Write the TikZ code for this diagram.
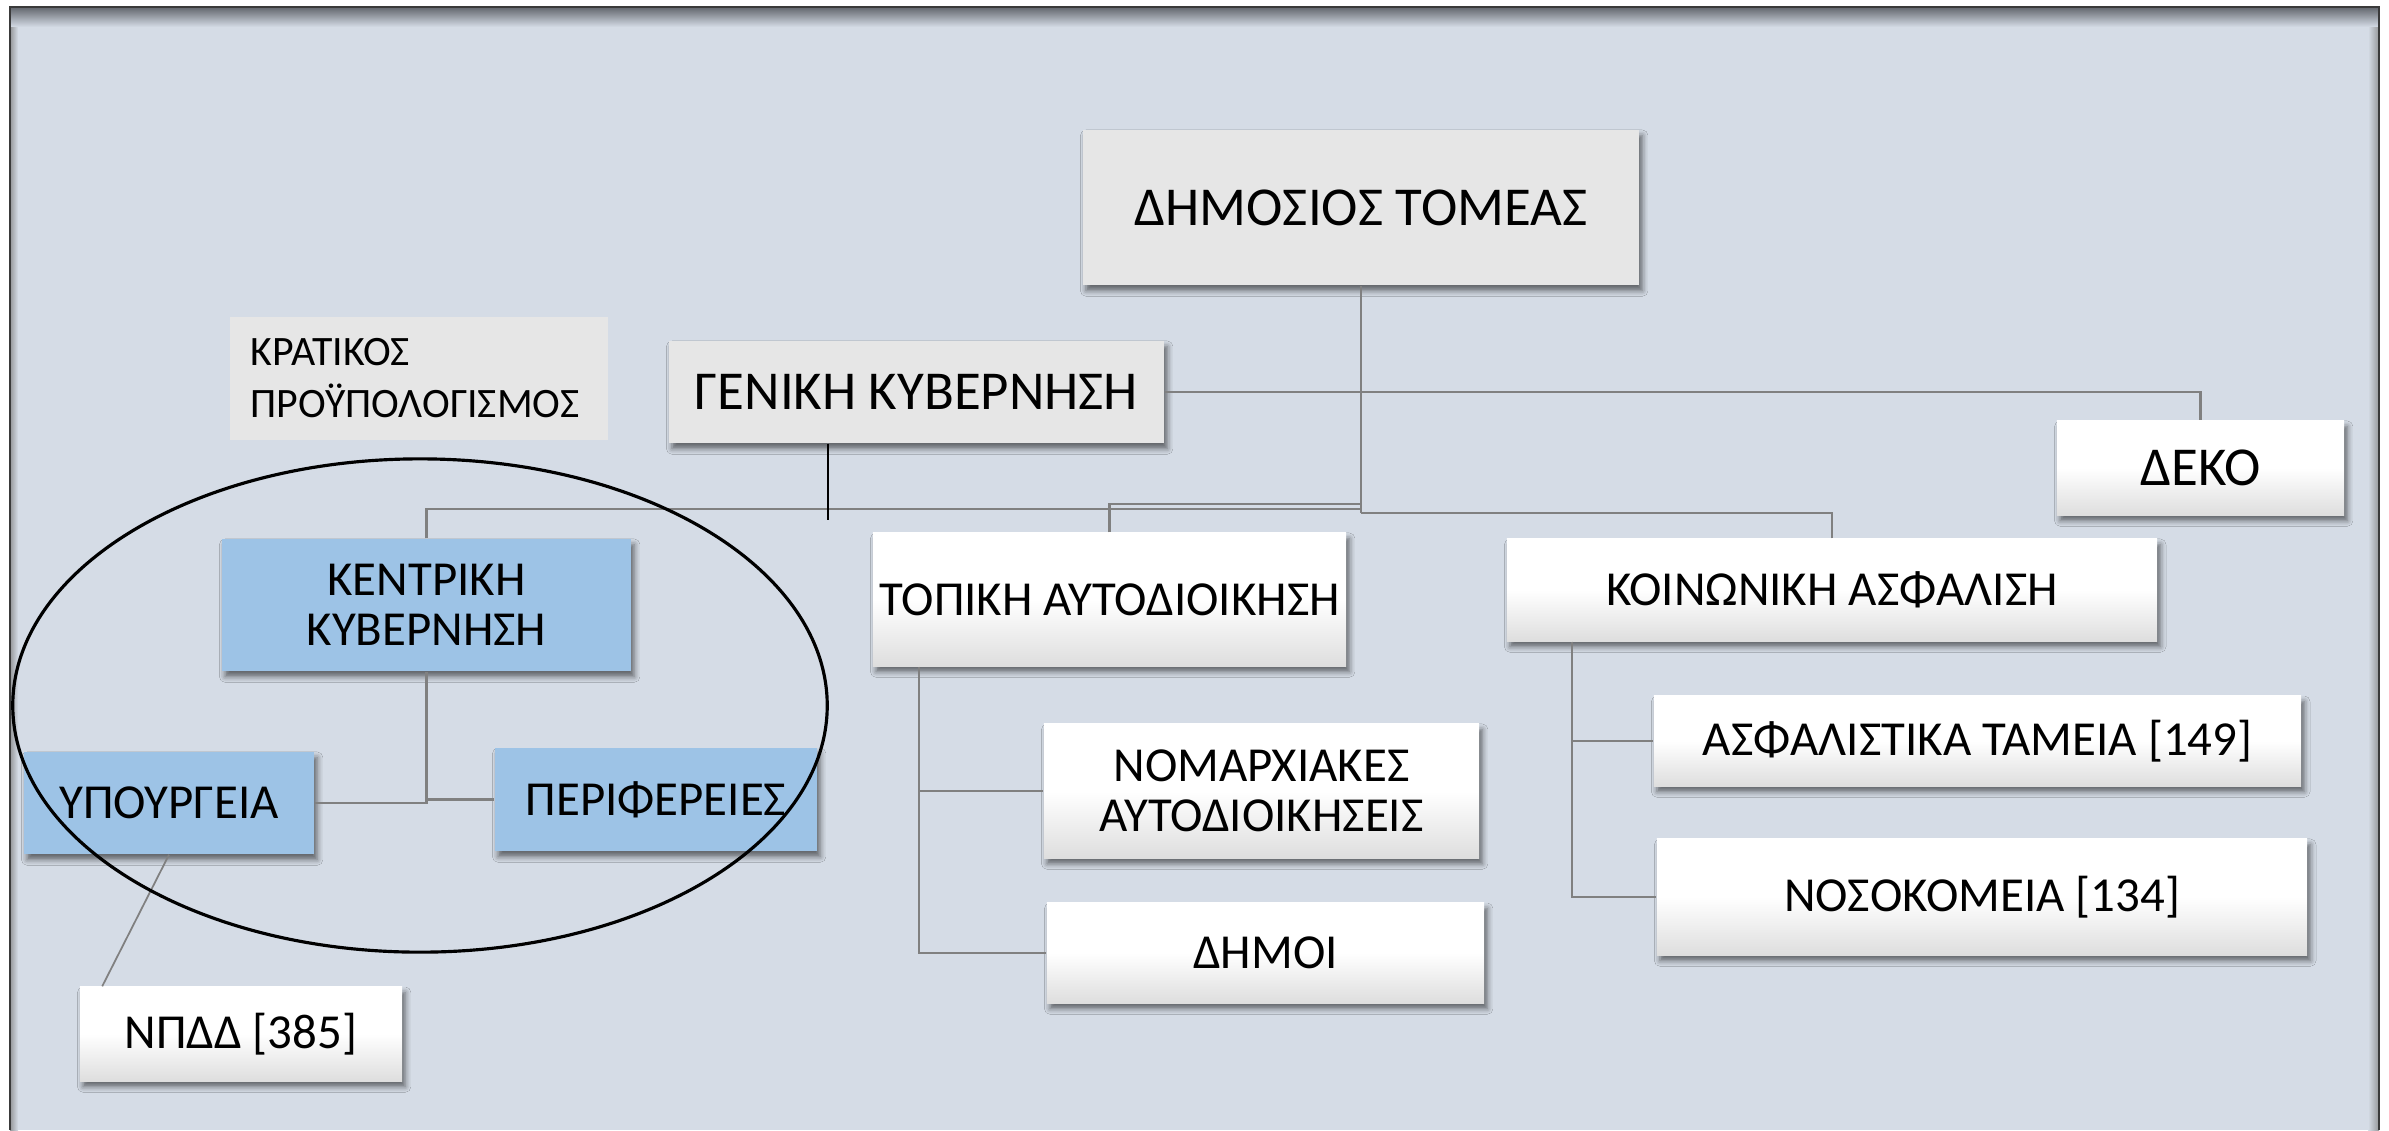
\documentclass[tikz,border=0pt]{standalone}
\usepackage{fontspec}
\setmainfont{Carlito}
\usetikzlibrary{shadows.blur,calc}
\definecolor{bg}{HTML}{D5DCE6}
\definecolor{greybox}{HTML}{E6E6E6}
\definecolor{bluebox}{HTML}{9DC3E6}
\definecolor{connc}{HTML}{808080}
\definecolor{framedark}{HTML}{3A3A3A}
\definecolor{framegrad}{HTML}{62666D}
\begin{document}
\begin{tikzpicture}[x=0.01cm,y=-0.01cm,
  base/.style={draw=none, inner sep=0pt, align=center, text=black,
    blur shadow={shadow xshift=0.9pt, shadow yshift=-1.6pt, shadow blur radius=1.6pt, shadow opacity=55}},
  greyb/.style={base, fill=greybox},
  blueb/.style={base, fill=bluebox},
  whiteb/.style={base, top color=white, bottom color=white!87!black, middle color=white},
  big/.style={font=\fontsize{15.6}{18}\selectfont},
  med/.style={font=\fontsize{13.9}{14.2}\selectfont},
  link/.style={draw=connc, line width=0.7pt},
]
\useasboundingbox (0,0) rectangle (2389,1130);
% frame and background
\fill[white] (0,0) rectangle (2389,1130);
\fill[bg] (10,7) rectangle (2379,1130);
\shade[top color=framegrad, bottom color=bg] (10,7) rectangle (2379,27);
\shade[left color=gray!75!bg, right color=bg] (10,27) rectangle (18,1130);
\shade[left color=bg, right color=gray!75!bg] (2368,27) rectangle (2379,1130);
\draw[framedark, line width=0.8pt] (10,1130) -- (10,7) -- (2379,7) -- (2379,1130);

\coordinate (jl) at (1361,509);
\coordinate (jt) at (1361,504);
\coordinate (jk) at (1361,513);
\coordinate (gkend) at (828,520);

% nodes
\node[greyb, big, minimum width=5.56cm, minimum height=1.55cm] (ds) at (1361,207.5) {ΔΗΜΟΣΙΟΣ ΤΟΜΕΑΣ};
\node[greyb, big, minimum width=4.95cm, minimum height=1.02cm] (gk) at (916.5,392) {ΓΕΝΙΚΗ ΚΥΒΕΡΝΗΣΗ};
\node[whiteb, big, minimum width=2.87cm, minimum height=0.94cm] (deko) at (2200.5,468) {ΔΕΚΟ};
\node[draw=none, fill=greybox, inner xsep=0.21cm, inner ysep=0pt, text width=3.36cm, align=left,
      minimum height=1.23cm, font=\fontsize{11.9}{14.8}\selectfont] (kp) at (419,378.5) {ΚΡΑΤΙΚΟΣ\\ΠΡΟΫΠΟΛΟΓΙΣΜΟΣ};
\node[blueb, med, minimum width=4.09cm, minimum height=1.32cm] (kk) at (426.5,605) {ΚΕΝΤΡΙΚΗ\\ΚΥΒΕΡΝΗΣΗ};
\node[blueb, med, minimum width=2.90cm, minimum height=1.02cm] (yp) at (169,803) {ΥΠΟΥΡΓΕΙΑ};
\node[blueb, med, minimum width=3.22cm, minimum height=1.03cm] (pe) at (656,799.5) {ΠΕΡΙΦΕΡΕΙΕΣ};
\node[whiteb, med, minimum width=3.22cm, minimum height=0.94cm] (np) at (241,1034) {ΝΠΔΔ [385]};
\node[whiteb, med, minimum width=4.73cm, minimum height=1.33cm] (ta) at (1109.5,599.5) {ΤΟΠΙΚΗ ΑΥΤΟΔΙΟΙΚΗΣΗ};
\node[whiteb, med, minimum width=4.35cm, minimum height=1.34cm] (no) at (1261.5,791) {ΝΟΜΑΡΧΙΑΚΕΣ\\ΑΥΤΟΔΙΟΙΚΗΣΕΙΣ};
\node[whiteb, med, minimum width=4.37cm, minimum height=1.00cm] (dh) at (1265.5,953) {ΔΗΜΟΙ};
\node[whiteb, med, minimum width=6.50cm, minimum height=1.02cm] (ko) at (1832,590) {ΚΟΙΝΩΝΙΚΗ ΑΣΦΑΛΙΣΗ};
\node[whiteb, med, minimum width=6.47cm, minimum height=0.90cm] (as) at (1977.5,741) {ΑΣΦΑΛΙΣΤΙΚΑ ΤΑΜΕΙΑ [149]};
\node[whiteb, med, minimum width=6.50cm, minimum height=1.16cm] (ns) at (1982,897) {ΝΟΣΟΚΟΜΕΙΑ [134]};

\coordinate (tax) at ([xshift=0.47cm]ta.south west);
\coordinate (kox) at ([xshift=0.66cm]ko.south west);

% connectors
\draw[link] (ds.south) -- (ds.south |- jk);
\draw[link] (kk.north) |- (jl);
\draw[link] (ta.north) |- (jt);
\draw[link] (ko.north) |- (jk);
\draw[link] (gk.east) -| (deko.north);
\draw[black, line width=0.4pt] (gkend |- gk.south) -- (gkend);
\draw[link] (kk.south) |- (yp.east);
\draw[link] (kk.south) |- (pe.west);
\draw[connc, line width=0.5pt] (yp.south) -- ([xshift=0.23cm]np.north west);
\draw[link] (tax) |- (no.west);
\draw[link] (tax) |- (dh.west);
\draw[link] (kox) |- (as.west);
\draw[link] (kox) |- (ns.west);

% ellipse around central government
\draw[black, line width=0.9pt] (420,705.5) ellipse [x radius=4.07cm, y radius=2.465cm];
\end{tikzpicture}
\end{document}
